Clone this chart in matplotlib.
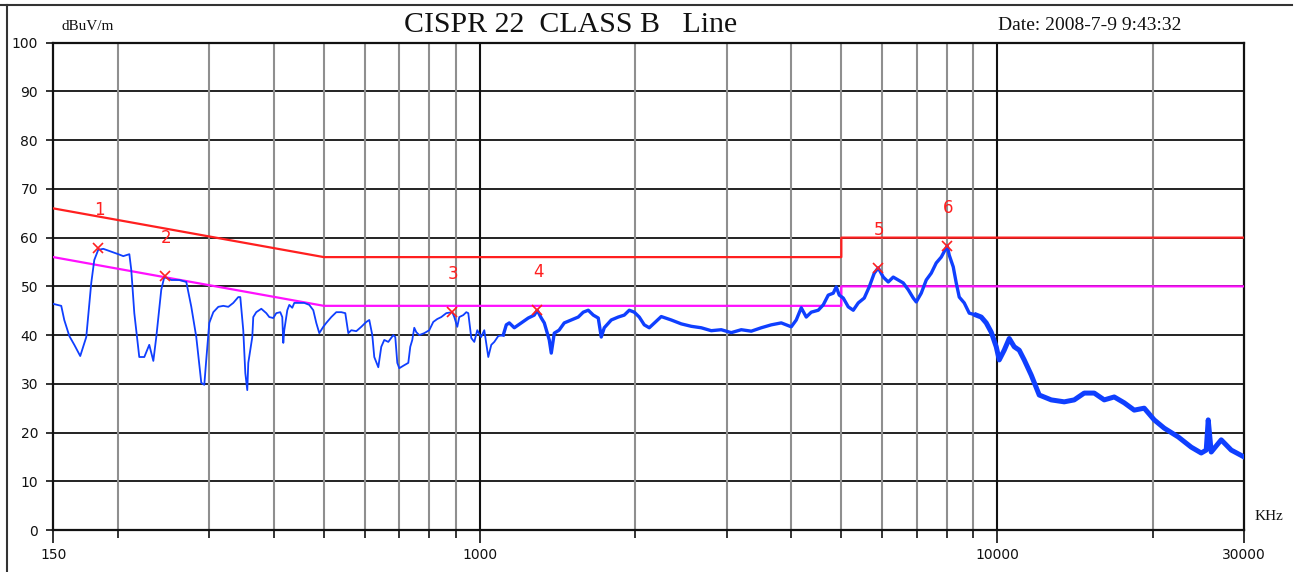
import numpy as np
import matplotlib.pyplot as plt
from matplotlib.lines import Line2D

# measured line trace, frequency in kHz and level in dBuV/m
freq = [150.0, 155.4, 157.5, 161.1, 164.7, 169.1, 173.7, 177.6, 180.0, 183.2,
        187.4, 200.3, 204.8, 210.4, 212.2, 215.1, 219.9, 224.9, 229.9, 234.1,
        237.2, 242.5, 245.8, 253.6, 262.8, 271.1, 277.2, 283.4, 289.8, 293.7,
        296.3, 300.3, 305.7, 312.6, 319.6, 326.8, 334.1, 341.6, 344.7, 349.3,
        352.5, 355.6, 357.2, 363.6, 365.2, 370.1, 378.5, 387.0, 392.2, 399.2,
        404.6, 411.8, 415.5, 417.4, 419.2, 424.9, 428.7, 434.4, 438.3, 448.2,
        458.3, 468.6, 477.0, 483.4, 489.9, 498.7, 505.4, 516.8, 528.4, 540.3,
        550.0, 557.4, 564.9, 577.6, 590.6, 603.9, 612.0, 620.2, 625.7, 637.0,
        645.5, 654.2, 666.0, 680.9, 687.0, 693.2, 699.4, 711.9, 728.0, 734.4,
        741.0, 747.6, 754.3, 764.5, 781.7, 799.2, 813.6, 828.2, 843.1, 862.1,
        885.3, 893.3, 905.3, 913.4, 929.8, 942.3, 950.7, 963.5, 976.4, 989.6,
        1006.6, 1020.9, 1039.2, 1053.2, 1067.3, 1086.5, 1110.9, 1125.9, 1141.0, 1166.7,
        1203.6, 1241.6, 1275.2, 1292.0, 1315.6, 1333.3, 1363.2, 1375.4, 1393.9, 1423.8,
        1457.2, 1503.3, 1550.9, 1585.8, 1621.5, 1658.0, 1695.2, 1718.0, 1741.1, 1796.2,
        1853.0, 1903.2, 1946.0, 1989.8, 2034.5, 2080.3, 2127.1, 2243.7, 2345.7, 2452.6,
        2564.2, 2680.8, 2802.8, 2930.4, 3063.7, 3203.1, 3348.8, 3501.2, 3660.5, 3827.1,
        4001.2, 4091.2, 4183.2, 4277.4, 4373.6, 4511.9, 4613.4, 4717.2, 4823.3, 4888.2,
        4953.9, 5042.8, 5156.3, 5272.2, 5390.9, 5536.7, 5661.2, 5788.6, 5892.5, 6025.1,
        6160.6, 6299.2, 6440.9, 6585.8, 6734.0, 6885.5, 6978.0, 7135.0, 7295.6, 7459.6,
        7627.4, 7799.0, 8010.0, 8081.6, 8226.7, 8337.3, 8449.4, 8639.4, 8833.8, 9113.2,
        9318.2, 9527.8, 9742.1, 9961.3, 10095, 10322, 10555, 10792, 11035, 11283,
        11640, 12062, 12723, 13481, 14094, 14736, 15406, 16107, 16840, 17606,
        18407, 19245, 20120, 21035, 22388, 23722, 24800, 25358, 25585, 25929,
        27108, 28342, 30000]
level = [46.4, 46.0, 43.1, 39.8, 38.0, 35.7, 39.6, 50.7, 55.4, 57.5,
         57.7, 56.6, 56.2, 56.6, 53.4, 44.5, 35.5, 35.5, 38.0, 34.7,
         39.6, 49.3, 51.9, 51.3, 51.3, 50.9, 45.8, 39.6, 30.2, 29.8,
         35.0, 42.5, 44.7, 45.8, 46.0, 45.8, 46.6, 47.8, 47.8, 41.0,
         32.2, 28.7, 34.3, 39.6, 43.7, 44.7, 45.4, 44.5, 43.7, 43.5,
         44.5, 44.7, 43.7, 38.4, 41.0, 45.1, 46.2, 45.6, 46.6, 46.6,
         46.6, 46.2, 45.1, 42.5, 40.4, 41.7, 42.5, 43.7, 44.7, 44.7,
         44.5, 40.4, 41.0, 40.8, 41.7, 42.7, 43.1, 40.0, 35.5, 33.4,
         37.6, 39.0, 38.6, 40.0, 39.6, 34.3, 33.2, 33.7, 34.3, 37.6,
         39.0, 41.5, 40.6, 40.0, 40.4, 41.0, 42.7, 43.3, 43.7, 44.5,
         44.7, 43.7, 41.7, 43.7, 44.1, 44.7, 44.5, 39.4, 38.6, 41.0,
         39.6, 41.0, 35.5, 38.0, 38.6, 39.8, 40.0, 42.1, 42.5, 41.5,
         42.5, 43.5, 44.1, 45.1, 43.5, 42.5, 39.0, 36.3, 40.4, 41.0,
         42.5, 43.1, 43.7, 44.7, 45.1, 44.1, 43.5, 39.6, 41.5, 43.1,
         43.7, 44.1, 45.1, 44.7, 43.7, 42.1, 41.5, 43.8, 43.1, 42.3,
         41.8, 41.5, 40.9, 41.1, 40.5, 41.1, 40.8, 41.5, 42.1, 42.5,
         41.7, 43.1, 45.6, 43.7, 44.7, 45.1, 46.2, 48.2, 48.6, 49.9,
         48.2, 47.6, 45.8, 45.1, 46.6, 47.6, 49.9, 52.7, 53.8, 51.9,
         50.9, 51.9, 51.3, 50.7, 49.3, 47.6, 46.8, 48.6, 51.3, 52.7,
         54.8, 56.0, 58.3, 56.4, 54.0, 50.7, 47.8, 46.6, 44.5, 44.1,
         43.7, 42.5, 40.6, 37.6, 34.9, 36.9, 39.3, 37.6, 36.9, 34.9,
         31.8, 27.7, 26.7, 26.3, 26.7, 28.1, 28.1, 26.7, 27.3, 26.1,
         24.6, 25.0, 22.6, 20.9, 19.1, 17.0, 15.8, 16.4, 22.6, 16.0,
         18.5, 16.4, 15.0]

# CISPR 22 class B conducted limits
qp_freq = [150, 500, 5000, 5000, 30000]
qp_limit = [66, 56, 56, 60, 60]
av_freq = [150, 500, 5000, 5000, 30000]
av_limit = [56, 46, 46, 50, 50]

# peak markers
mark_freq = [183, 247, 885, 1292, 5892, 8010]
mark_level = [57.9, 52.1, 44.7, 45.1, 53.8, 58.3]
mark_names = ['1', '2', '3', '4', '5', '6']

y_ticks = list(range(0, 101, 10))
x_major = [150, 1000, 10000, 30000]
x_major_labels = ['150', '1000', '10000', '30000']
x_minor = [200, 300, 400, 500, 600, 700, 800, 900,
           2000, 3000, 4000, 5000, 6000, 7000, 8000, 9000, 20000]

W, H = 1298, 572


def fx(x):
    return x / W


def fy(y):
    return 1 - y / H


fig = plt.figure(figsize=(W / 100, H / 100), dpi=100)
ax = fig.add_axes([fx(53.3), fy(530), (1244 - 53.3) / W, (530 - 42.7) / H])

ax.set_xscale('log')
ax.set_xlim(150, 30000)
ax.set_ylim(0, 100)

# grid
for v in y_ticks[1:-1]:
    ax.axhline(v, color='#111111', lw=1.3, zorder=1)
for v in x_minor:
    ax.axvline(v, color='#8f8f8f', lw=1.5, zorder=1)
for v in [1000, 10000]:
    ax.axvline(v, color='#111111', lw=1.5, zorder=1)

# limits
ax.plot(qp_freq, qp_limit, color='#ff1f1f', lw=1.6, zorder=3)
ax.plot(av_freq, av_limit, color='#ff10ff', lw=1.6, zorder=3)

# trace: thin at low frequency, wider where the sweep gets noisy
f = np.array(freq)
lv = np.array(level)
blue = '#0f3fff'
lo = f <= 1130
mid = (f >= 1110) & (f <= 9200)
hi = f >= 9113
ax.plot(f[lo], lv[lo], color=blue, lw=1.3, zorder=4)
ax.plot(f[mid], lv[mid], color=blue, lw=2.4, zorder=4)
ax.plot(f[hi], lv[hi], color=blue, lw=3.6, zorder=4)

# markers
ax.plot(mark_freq, mark_level, 'x', color='#ff2020', ms=7, mew=1.2, zorder=5)
for fq, lvl, name in zip(mark_freq, mark_level, mark_names):
    ax.annotate(name, (fq, lvl), xytext=(1, 38), textcoords='offset pixels',
                ha='center', va='center', color='#ff2020', fontsize=12,
                family='DejaVu Sans')

# axes frame and ticks
for s in ax.spines.values():
    s.set_linewidth(1.6)
    s.set_color('#111111')
ax.set_yticks(y_ticks)
ax.set_yticklabels([str(v) for v in y_ticks])
ax.set_xticks(x_major)
ax.set_xticklabels(x_major_labels)
ax.set_xticks(x_minor, minor=True)
ax.xaxis.set_minor_formatter(plt.NullFormatter())
ax.tick_params(axis='y', length=5, width=1.2, pad=6, labelsize=10,
               colors='#111111')
ax.tick_params(axis='x', which='major', length=9, width=1.2, pad=4,
               labelsize=10, colors='#111111')
ax.tick_params(axis='x', which='minor', length=6, width=1.2, colors='#111111')

# header texts
fig.text(fx(62), fy(27), 'dBuV/m', ha='left', va='center', fontsize=11,
         family='Liberation Serif', color='#111111')
fig.text(fx(571), fy(25), 'CISPR 22  CLASS B   Line', ha='center',
         va='center', fontsize=21.5, family='Liberation Serif',
         color='#111111')
fig.text(fx(1090), fy(25), 'Date: 2008-7-9 9:43:32', ha='center',
         va='center', fontsize=14, family='Liberation Serif', color='#111111')
fig.text(fx(1255), fy(517), 'KHz', ha='left', va='center', fontsize=11,
         family='Liberation Serif', color='#111111')

# outer border
fig.add_artist(Line2D([0, fx(1292)], [fy(4.7), fy(4.7)], color='#333333',
                      lw=1.5))
fig.add_artist(Line2D([fx(7), fx(7)], [fy(4.7), 0], color='#333333', lw=1.5))

fig.savefig('out.png', dpi=100)
